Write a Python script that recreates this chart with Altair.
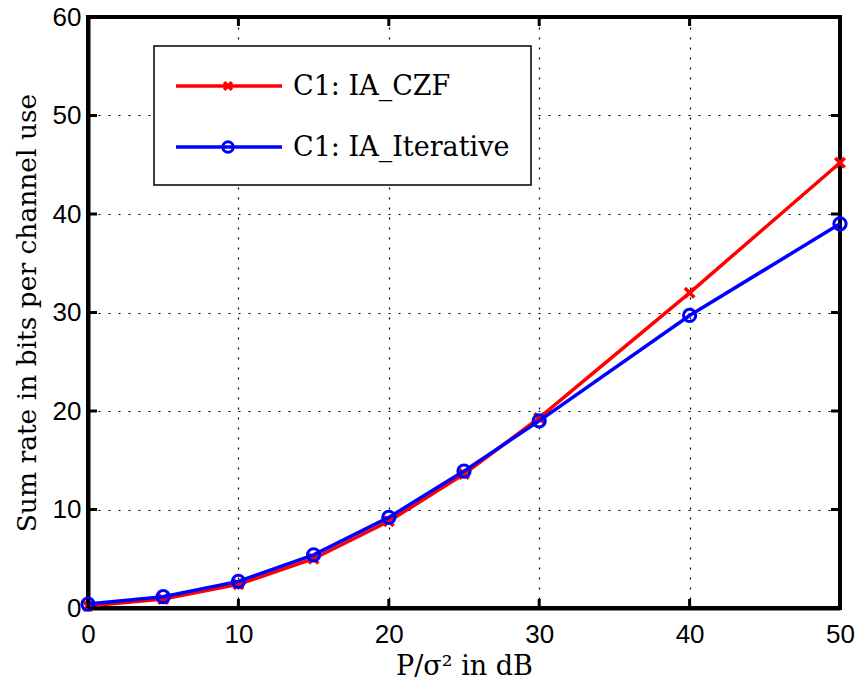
import altair as alt
import pandas as pd

snr_db = [0, 5, 10, 15, 20, 25, 30, 40, 50]
ia_czf = [0.2, 0.9, 2.4, 5.0, 8.8, 13.6, 19.3, 32.0, 45.2]
ia_iterative = [0.4, 1.15, 2.7, 5.4, 9.2, 13.9, 19.0, 29.7, 39.0]
series_names = ["C1:  IA_CZF", "C1:  IA_Iterative"]
series_colors = ["#ff0000", "#0000ff"]
x_ticks = [0, 10, 20, 30, 40, 50]
y_ticks = [0, 10, 20, 30, 40, 50, 60]

W, H = 752, 591

df = pd.DataFrame({
    "snr": snr_db * 2,
    "rate": ia_czf + ia_iterative,
    "series": [series_names[0]] * len(snr_db) + [series_names[1]] * len(snr_db),
})
czf_df = df[df.series == series_names[0]]
it_df = df[df.series == series_names[1]]

xs = alt.Scale(domain=[0, 50], nice=False, zero=False)
ys = alt.Scale(domain=[0, 60], nice=False, zero=False)

X = alt.X("snr:Q", scale=xs, axis=alt.Axis(
    values=x_ticks, title="P/σ² in dB", grid=True, tickSize=0, labelPadding=13,
    labelFlush=False, titlePadding=6, titleFontSize=27))
Y = alt.Y("rate:Q", scale=ys, axis=alt.Axis(
    values=y_ticks, title="Sum rate in bits per channel use", grid=True, tickSize=0,
    labelPadding=7, labelFlush=False, titlePadding=11, titleFontSize=26.5))

cross_path = "M-1,-1L1,1M-1,1L1,-1"

line_czf = alt.Chart(czf_df).mark_line(color=series_colors[0], strokeWidth=3.5).encode(x=X, y=Y)
pts_czf = alt.Chart(czf_df).mark_point(shape=cross_path, size=90, color=series_colors[0],
                                       strokeWidth=3.5, filled=False, opacity=1).encode(x="snr:Q", y="rate:Q")
line_it = alt.Chart(it_df).mark_line(color=series_colors[1], strokeWidth=3.5).encode(x="snr:Q", y="rate:Q")
pts_it = alt.Chart(it_df).mark_point(shape="circle", size=150, color=series_colors[1],
                                     strokeWidth=3, filled=False, opacity=1).encode(x="snr:Q", y="rate:Q")

xt = pd.DataFrame({"snr": x_ticks})
yt = pd.DataFrame({"rate": y_ticks})
tick_b = alt.Chart(xt).mark_rule(color="black", strokeWidth=3).encode(
    x="snr:Q", y=alt.value(H), y2=alt.value(H - 9))
tick_t = alt.Chart(xt).mark_rule(color="black", strokeWidth=3).encode(
    x="snr:Q", y=alt.value(0), y2=alt.value(9))
tick_l = alt.Chart(yt).mark_rule(color="black", strokeWidth=3).encode(
    y="rate:Q", x=alt.value(0), x2=alt.value(9))
tick_r = alt.Chart(yt).mark_rule(color="black", strokeWidth=3).encode(
    y="rate:Q", x=alt.value(W), x2=alt.value(W - 9))

# legend
leg_df = pd.DataFrame({"series": series_names})
leg_box = alt.Chart(leg_df.head(1)).mark_rect(fill="white", stroke="black", strokeWidth=1.5).encode(
    x=alt.value(66), x2=alt.value(443), y=alt.value(29), y2=alt.value(168))
leg_layers = [leg_box]
row_y = [69, 130]
for i, name in enumerate(series_names):
    d = leg_df[leg_df.series == name]
    leg_layers.append(alt.Chart(d).mark_rule(color=series_colors[i], strokeWidth=3.5).encode(
        x=alt.value(88), x2=alt.value(194), y=alt.value(row_y[i])))
    if i == 0:
        leg_layers.append(alt.Chart(d).mark_point(shape=cross_path, size=60, color=series_colors[i],
                                                  strokeWidth=3.5, filled=False, opacity=1).encode(
            x=alt.value(140), y=alt.value(row_y[i])))
    else:
        leg_layers.append(alt.Chart(d).mark_point(shape="circle", size=110, color=series_colors[i],
                                                  strokeWidth=3, filled=False, opacity=1).encode(
            x=alt.value(140), y=alt.value(row_y[i])))
    leg_layers.append(alt.Chart(d).mark_text(align="left", baseline="middle", font="DejaVu Serif",
                                             fontSize=27, color="black").encode(
        x=alt.value(205), y=alt.value(row_y[i] + 1), text="series:N"))

chart = alt.layer(
    line_czf, pts_czf, line_it, pts_it, tick_b, tick_t, tick_l, tick_r, *leg_layers
).properties(
    width=W, height=H,
    autosize=alt.AutoSizeParams(type="none"),
    padding={"left": 88, "top": 17, "right": 19, "bottom": 79},
    background="white",
).configure_view(
    stroke="black", strokeWidth=4
).configure_axis(
    labelFont="Liberation Sans", labelFontSize=26, labelColor="black",
    titleFont="DejaVu Serif", titleFontWeight="normal", titleColor="black",
    gridColor="black", gridDash=[2, 8], gridWidth=1.2, gridOpacity=1,
    domainColor="black", domainWidth=4,
)

chart.save("out.html", embed_options={"renderer": "svg", "actions": False})
